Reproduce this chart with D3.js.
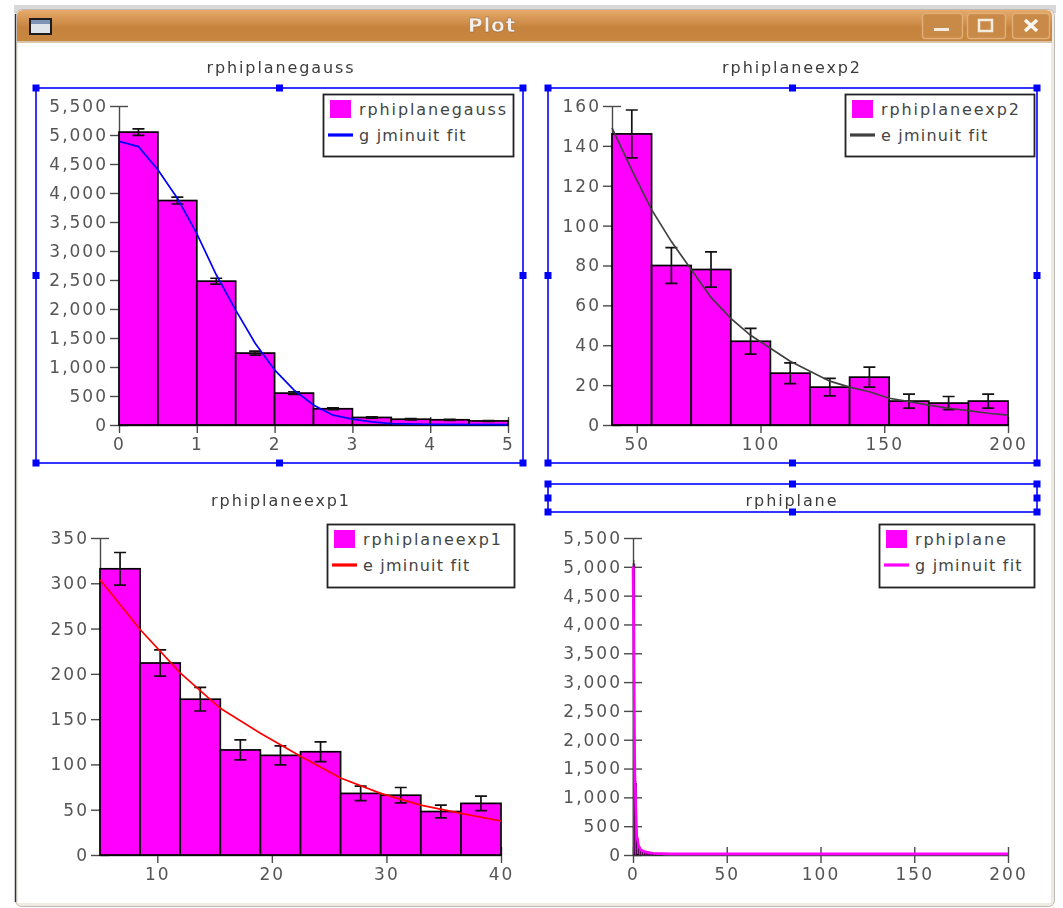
<!DOCTYPE html>
<html>
<head>
<meta charset="utf-8">
<script src="https://cdn.jsdelivr.net/npm/d3@7"></script>
<style>
html, body { margin: 0; padding: 0; background: #fff; }
svg { display: block; filter: blur(0.7px); }
text { font-family: "DejaVu Sans", sans-serif; }
</style>
</head>
<body>
<div id="chart"></div>
<script>
// values
const gaussCounts = [5050, 3870, 2480, 1240, 550, 280, 130, 100, 90, 70];
const gaussErrors = [55, 60, 50, 35, 23, 17, 11, 10, 9, 8];
const gaussFitX = [0, 0.25, 0.5, 0.75, 1, 1.25, 1.5, 1.75, 2, 2.25, 2.5, 2.75, 3, 3.25, 3.5, 4, 5];
const gaussFitY = [4890, 4800, 4400, 3910, 3300, 2590, 1980, 1410, 950, 600, 345, 170, 100, 55, 25, 10, 5];

const exp2Counts = [146, 80, 78, 42, 26, 19, 24, 12, 11, 12];
const exp2Errors = [12, 9, 8.8, 6.5, 5.2, 4.4, 5, 3.5, 3.3, 3.5];
const exp2FitX = [40, 48, 56, 64, 72, 80, 88, 96, 104, 112, 120, 128, 136, 144, 152, 160, 168, 176, 184, 192, 200];
const exp2FitY = [149, 128, 108, 92, 78, 64, 53.5, 45, 38.5, 32, 27, 22, 19, 16.7, 13.4, 11.7, 10, 8.4, 7.2, 5.9, 5];

const exp1Counts = [316, 212, 172, 116, 110, 114, 68, 66, 48, 57];
const exp1Errors = [18, 14.5, 13, 11, 10.5, 11, 8, 8.5, 7, 8];
const exp1FitX = [5, 8.5, 12, 15.5, 19, 22.5, 26, 29.5, 33, 36.5, 40];
const exp1FitY = [304, 249, 201, 162, 134.5, 109, 85, 68, 55, 46, 37.5];

const planeCounts = [5050, 1240, 280, 130, 90, 70, 60, 50, 45, 40, 35, 30, 30, 25, 25, 20];
const planeErrors = [55, 35, 17, 11, 9, 8, 8, 7, 7, 6, 6, 5, 5, 5, 5, 4];
const planeFitX = [0, 1, 2, 3, 4, 6, 10, 20, 200];
const planeFitY = [5000, 1400, 330, 160, 90, 60, 30, 20, 20];

const bigTicks = [0, 500, 1000, 1500, 2000, 2500, 3000, 3500, 4000, 4500, 5000, 5500];
const exp2Ticks = [0, 20, 40, 60, 80, 100, 120, 140, 160];
const exp1Ticks = [0, 50, 100, 150, 200, 250, 300, 350];

const plots = [
    { title: "rphiplanegauss", fitName: "g jminuit fit", color: "#0000ff", counts: gaussCounts, errors: gaussErrors, fitX: gaussFitX, fitY: gaussFitY,
      start: 0, binWidth: 0.5, xDomain: [0, 5], yMax: 5500, xTicks: [0, 1, 2, 3, 4, 5], yTicks: bigTicks, barStroke: 1.7, fitStroke: 1.7,
      left: 119, right: 508, top: 106, bottom: 425, titleX: 281, titleY: 73, legend: [323, 94, 190, 62] },
    { title: "rphiplaneexp2", fitName: "e jminuit fit", color: "#404040", counts: exp2Counts, errors: exp2Errors, fitX: exp2FitX, fitY: exp2FitY,
      start: 40, binWidth: 16, xDomain: [40, 200], yMax: 160, xTicks: [50, 100, 150, 200], yTicks: exp2Ticks, barStroke: 1.7, fitStroke: 1.7,
      left: 612, right: 1008, top: 106, bottom: 425, titleX: 792, titleY: 73, legend: [845, 94, 189, 62] },
    { title: "rphiplaneexp1", fitName: "e jminuit fit", color: "#ff0000", counts: exp1Counts, errors: exp1Errors, fitX: exp1FitX, fitY: exp1FitY,
      start: 5, binWidth: 3.5, xDomain: [5, 40], yMax: 350, xTicks: [10, 20, 30, 40], yTicks: exp1Ticks, barStroke: 1.7, fitStroke: 1.7,
      left: 100, right: 501, top: 538, bottom: 855, titleX: 281, titleY: 506, legend: [327, 524, 187, 63] },
    { title: "rphiplane", fitName: "g jminuit fit", color: "#ff00ff", counts: planeCounts, errors: planeErrors, fitX: planeFitX, fitY: planeFitY,
      start: 0, binWidth: 1, xDomain: [0, 200], yMax: 5500, xTicks: [0, 50, 100, 150, 200], yTicks: bigTicks, barStroke: 0.5, fitStroke: 2.6,
      left: 633, right: 1008, top: 538, bottom: 855, titleX: 792, titleY: 506, legend: [879, 524, 155, 63] }
];

const svg = d3.select("#chart").append("svg")
    .attr("width", 1063)
    .attr("height", 908);

const defs = svg.append("defs");
const grad = defs.append("linearGradient")
    .attr("id", "titlebar")
    .attr("x1", 0).attr("x2", 0).attr("y1", 0).attr("y2", 1);
grad.append("stop").attr("offset", "0%").attr("stop-color", "#e6aa6b");
grad.append("stop").attr("offset", "55%").attr("stop-color", "#c6833e");
grad.append("stop").attr("offset", "100%").attr("stop-color", "#c8873f");

drawWindow();
plots.forEach(drawPlot);

// selection boxes with the little handles
selection(36, 88, 487, 375);
selection(548, 88, 489, 375);
selection(548, 484, 489, 28);

function drawWindow() {
    svg.append("rect").attr("x", 14).attr("y", 5).attr("width", 1042).attr("height", 8).attr("fill", "#d8d8d8");
    svg.append("rect")
        .attr("x", 15.5).attr("y", 9.5)
        .attr("width", 1039).attr("height", 897)
        .attr("rx", 6)
        .attr("fill", "#efebe4")
        .attr("stroke", "#bdbab4");
    svg.append("line")
        .attr("x1", 15.5).attr("x2", 15.5).attr("y1", 14).attr("y2", 902)
        .attr("stroke", "#333").attr("stroke-width", 1.5);
    svg.append("rect").attr("x", 18).attr("y", 40).attr("width", 1033).attr("height", 863).attr("fill", "#fff");
    svg.append("path")
        .attr("d", "M17,42V16Q17,10 23,10H1046Q1052,10 1052,16V42Z")
        .attr("fill", "url(#titlebar)");
    svg.append("rect").attr("x", 17).attr("y", 41).attr("width", 1035).attr("height", 2).attr("fill", "#d8c4ac");

    svg.append("rect")
        .attr("x", 30).attr("y", 19).attr("width", 21).attr("height", 15)
        .attr("fill", "#dfe3ea").attr("stroke", "#1c1c1c").attr("stroke-width", 2);
    svg.append("rect").attr("x", 31).attr("y", 20).attr("width", 19).attr("height", 4).attr("fill", "#7d92b4");

    svg.append("text")
        .attr("x", 492).attr("y", 32)
        .attr("text-anchor", "middle")
        .attr("font-size", 20).attr("font-weight", "bold")
        .attr("letter-spacing", 0.8)
        .attr("fill", "#f4efe8").attr("stroke", "#8a6238").attr("stroke-width", 0.4)
        .text("Plot");

    const buttons = [[922, 40], [967, 38], [1012, 37]];
    svg.selectAll(".wbtn").data(buttons).join("rect")
        .attr("class", "wbtn")
        .attr("x", d => d[0] + 0.5).attr("y", 13.5)
        .attr("width", d => d[1]).attr("height", 25)
        .attr("rx", 3)
        .attr("fill", "#c98a47")
        .attr("stroke", "#dfae7a").attr("stroke-width", 1.5);
    svg.append("rect").attr("x", 934).attr("y", 28).attr("width", 15).attr("height", 3).attr("fill", "#f5ece0");
    svg.append("rect")
        .attr("x", 979).attr("y", 20).attr("width", 13).attr("height", 11)
        .attr("fill", "none").attr("stroke", "#f5ece0").attr("stroke-width", 2.5);
    svg.append("path")
        .attr("d", "M1025,20L1037,31M1037,20L1025,31")
        .attr("stroke", "#fbf6ee").attr("stroke-width", 3.5);
}

function drawPlot(p) {
    const x = d3.scaleLinear().domain(p.xDomain).range([p.left, p.right]);
    const y = d3.scaleLinear().domain([0, p.yMax]).range([p.bottom, p.top]);
    const g = svg.append("g");

    g.append("text")
        .attr("x", p.titleX).attr("y", p.titleY)
        .attr("text-anchor", "middle")
        .attr("font-size", 16)
        .attr("letter-spacing", 1.9)
        .attr("fill", "#3c3c3c")
        .text(p.title);

    const yAxis = g.append("g")
        .attr("transform", `translate(${p.left},0)`)
        .call(d3.axisLeft(y).tickValues(p.yTicks).tickFormat(d3.format(",")).tickSize(9).tickSizeOuter(0).tickPadding(2));
    yAxis.selectAll(".tick line").attr("x1", 9);

    const xAxis = g.append("g")
        .attr("transform", `translate(0,${p.bottom})`)
        .call(d3.axisBottom(x).tickValues(p.xTicks).tickFormat(d3.format("d")).tickSize(8).tickSizeOuter(0).tickPadding(5));
    xAxis.selectAll(".tick line").attr("y1", -8);

    g.selectAll(".domain").attr("stroke", "#4a4a4a").attr("stroke-width", 1.4);
    g.selectAll(".tick line").attr("stroke", "#4a4a4a").attr("stroke-width", 1.4);
    g.selectAll(".tick text")
        .attr("font-size", 17)
        .attr("letter-spacing", 2)
        .attr("fill", "#555");

    const bins = p.counts.map((c, i) => ({ x0: p.start + i * p.binWidth, x1: p.start + (i + 1) * p.binWidth, c: c, err: p.errors[i] }));

    g.selectAll(".bar").data(bins).join("rect")
        .attr("class", "bar")
        .attr("x", d => x(d.x0))
        .attr("y", d => y(d.c))
        .attr("width", d => x(d.x1) - x(d.x0))
        .attr("height", d => p.bottom - y(d.c))
        .attr("fill", "#ff00ff")
        .attr("stroke", "#000")
        .attr("stroke-width", p.barStroke);

    const capW = Math.min(6, (x(p.start + p.binWidth) - x(p.start)) * 0.4);
    g.selectAll(".err").data(bins).join("path")
        .attr("class", "err")
        .attr("fill", "none")
        .attr("stroke", "#111")
        .attr("stroke-width", p.barStroke)
        .attr("d", d => {
            const cx = x((d.x0 + d.x1) / 2);
            const hi = y(d.c + d.err);
            const lo = y(d.c - d.err);
            return `M${cx - capW},${hi}H${cx + capW}M${cx},${hi}V${lo}M${cx - capW},${lo}H${cx + capW}`;
        });

    const fit = d3.line()
        .x((d, i) => x(p.fitX[i]))
        .y(d => y(d));

    g.append("path")
        .attr("d", fit(p.fitY))
        .attr("fill", "none")
        .attr("stroke", p.color)
        .attr("stroke-width", p.fitStroke);

    drawLegend(g, p);
}

function drawLegend(g, p) {
    const [lx, ly, lw, lh] = p.legend;
    const l = g.append("g").attr("transform", `translate(${lx},${ly})`);
    l.append("rect")
        .attr("x", 0.5).attr("y", 0.5)
        .attr("width", lw).attr("height", lh)
        .attr("fill", "#fff")
        .attr("stroke", "#222")
        .attr("stroke-width", 1.8);
    l.append("rect")
        .attr("x", 7).attr("y", 6)
        .attr("width", 21).attr("height", 18)
        .attr("fill", "#ff00ff");
    l.append("line")
        .attr("x1", 5).attr("x2", 30).attr("y1", 41).attr("y2", 41)
        .attr("stroke", p.color)
        .attr("stroke-width", 3.2);
    l.selectAll("text").data([p.title, p.fitName]).join("text")
        .attr("x", 36)
        .attr("y", (d, i) => i === 0 ? 21 : 47)
        .attr("font-size", 16)
        .attr("letter-spacing", (d, i) => i === 0 ? 1.9 : 1.2)
        .attr("fill", "#444")
        .text(d => d);
}

function selection(sx, sy, sw, sh) {
    svg.append("rect")
        .attr("x", sx).attr("y", sy)
        .attr("width", sw).attr("height", sh)
        .attr("fill", "none")
        .attr("stroke", "#2020ff")
        .attr("stroke-width", 1.8);
    const handles = [];
    [0, 0.5, 1].forEach(fx => [0, 0.5, 1].forEach(fy => {
        if (fx !== 0.5 || fy !== 0.5) handles.push([sx + fx * sw, sy + fy * sh]);
    }));
    svg.selectAll(null).data(handles).join("rect")
        .attr("x", d => d[0] - 3.5).attr("y", d => d[1] - 3.5)
        .attr("width", 7).attr("height", 7)
        .attr("fill", "#0000ff");
}
</script>
</body>
</html>
